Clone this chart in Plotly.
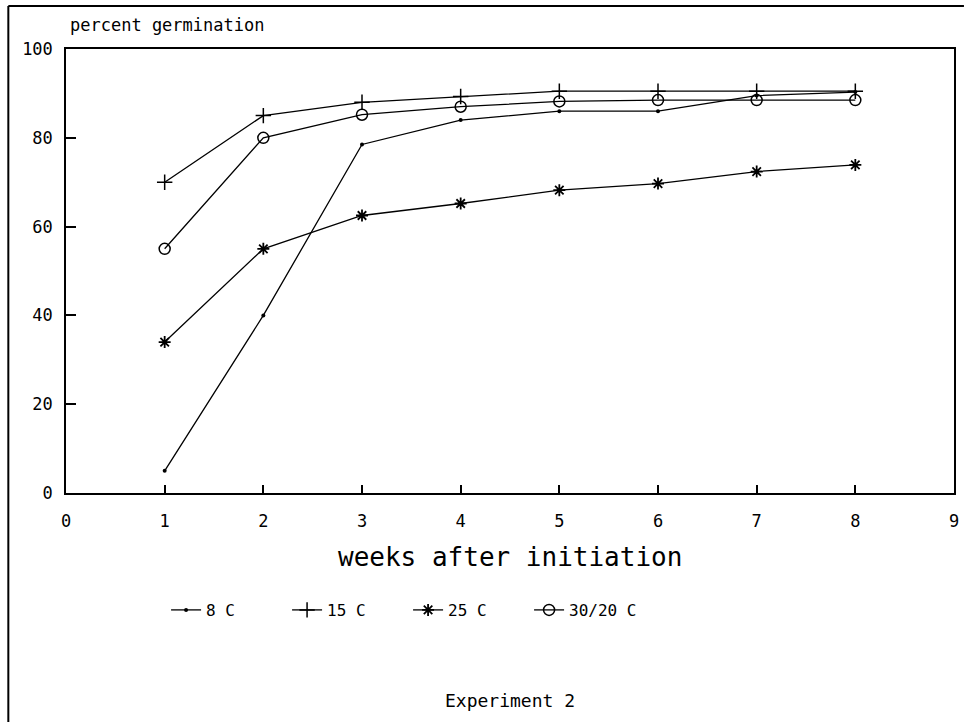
import plotly.graph_objects as go

weeks = [1, 2, 3, 4, 5, 6, 7, 8]
series_names = ["8 C", "15 C", "25 C", "30/20 C"]
c8 = [5, 40, 78.5, 84, 86, 86, 89.5, 90.3]
c15 = [70, 85, 88, 89.3, 90.5, 90.5, 90.5, 90.5]
c25 = [34, 55, 62.5, 65.2, 68.2, 69.7, 72.4, 73.9]
c30_20 = [55, 80, 85.2, 87, 88.2, 88.5, 88.5, 88.5]
x_ticks = [0, 1, 2, 3, 4, 5, 6, 7, 8, 9]
y_ticks = [0, 20, 40, 60, 80, 100]

FONT = "DejaVu Sans Mono"
W, H = 969, 722
L, R, T, B = 66, 10, 49, 229
pw, ph = W - L - R, H - T - B


def px(xp):
    return (xp - L) / pw


def py(yp):
    return (H - B - yp) / ph


styles = [
    dict(symbol="circle", size=4, line=dict(width=0)),
    dict(symbol="cross-thin", size=11, line=dict(width=1.5, color="black")),
    dict(symbol="asterisk", size=10, line=dict(width=1.8, color="black")),
    dict(symbol="circle-open", size=11, line=dict(width=1.5, color="black")),
]

fig = go.Figure()
for name, vals, st in zip(series_names, [c8, c15, c25, c30_20], styles):
    fig.add_trace(go.Scatter(
        x=weeks, y=vals, name=name, mode="lines+markers",
        line=dict(color="black", width=1.3),
        marker=dict(color="black", **st),
    ))

fig.update_layout(
    width=W, height=H,
    margin=dict(l=L, r=R, t=T, b=B),
    paper_bgcolor="white", plot_bgcolor="white",
    font=dict(family=FONT, color="black", size=16),
    showlegend=True,
    legend=dict(orientation="h", x=px(410), y=py(610), xanchor="center", yanchor="middle",
                font=dict(family=FONT, size=16, color="black"),
                entrywidth=76, entrywidthmode="pixels",
                bgcolor="rgba(0,0,0,0)"),
    xaxis=dict(range=[0, 9], tickvals=x_ticks, ticktext=[str(v) for v in x_ticks],
               showgrid=False, zeroline=False, showline=True, linecolor="black",
               linewidth=1.5, mirror=True, ticks="inside", ticklen=8, tickwidth=1.5,
               tickcolor="black", tickfont=dict(family=FONT, size=17),
               ticklabelstandoff=12),
    yaxis=dict(range=[0, 100], tickvals=y_ticks, ticktext=[str(v) for v in y_ticks],
               showgrid=False, zeroline=False, showline=True, linecolor="black",
               linewidth=1.5, mirror=True, ticks="inside", ticklen=10, tickwidth=1.5,
               tickcolor="black", tickfont=dict(family=FONT, size=17),
               ticklabelstandoff=8),
)

fig.add_annotation(text="percent germination", xref="paper", yref="paper",
                   x=px(68), y=py(25), xanchor="left", yanchor="middle",
                   showarrow=False, font=dict(family=FONT, size=17))
fig.add_annotation(text="weeks after initiation", xref="paper", yref="paper",
                   x=px(512), y=py(557), xanchor="center", yanchor="middle",
                   showarrow=False, font=dict(family=FONT, size=26))
fig.add_annotation(text="Experiment 2", xref="paper", yref="paper",
                   x=px(512), y=py(700), xanchor="center", yanchor="middle",
                   showarrow=False, font=dict(family=FONT, size=18))

# outer frame lines
fig.add_shape(type="line", xref="paper", yref="paper", x0=px(8), x1=px(8),
              y0=py(6), y1=py(722), line=dict(color="black", width=2))
fig.add_shape(type="line", xref="paper", yref="paper", x0=px(8), x1=px(969),
              y0=py(6), y1=py(6), line=dict(color="black", width=2))

fig.write_html("out.html")
